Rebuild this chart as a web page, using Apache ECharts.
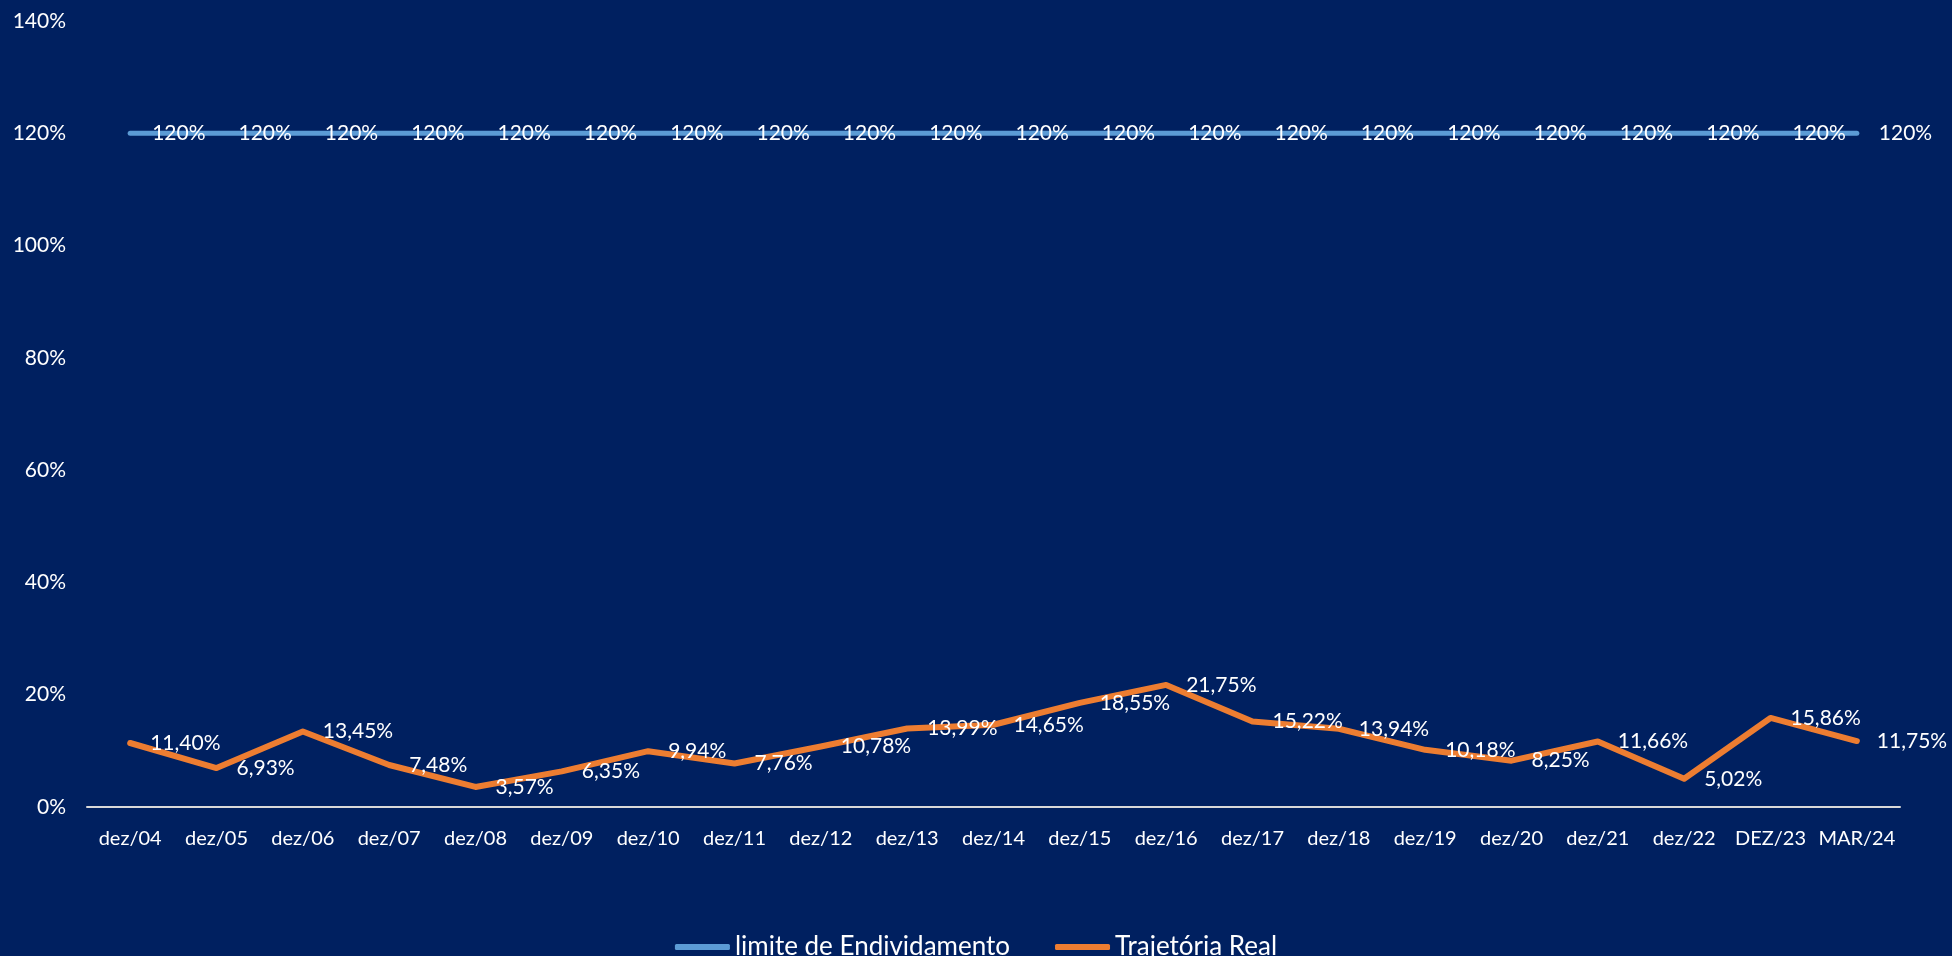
<!DOCTYPE html>
<html>
<head>
<meta charset="utf-8">
<script src="https://cdn.jsdelivr.net/npm/echarts@6/dist/echarts.min.js"></script>
<style>
html,body{margin:0;padding:0;background:#002060;}
#chart{width:1952px;height:956px;}
</style>
</head>
<body>
<div id="chart"></div>
<script>
const categories = ['dez/04','dez/05','dez/06','dez/07','dez/08','dez/09','dez/10','dez/11','dez/12','dez/13','dez/14','dez/15','dez/16','dez/17','dez/18','dez/19','dez/20','dez/21','dez/22','DEZ/23','MAR/24'];
const limiteValues = [120,120,120,120,120,120,120,120,120,120,120,120,120,120,120,120,120,120,120,120,120];
const trajetoriaValues = [11.40,6.93,13.45,7.48,3.57,6.35,9.94,7.76,10.78,13.99,14.65,18.55,21.75,15.22,13.94,10.18,8.25,11.66,5.02,15.86,11.75];
const yTicks = {min:0, max:140, interval:20};
const seriesNames = ['limite de Endividamento','Trajetória Real'];

const FONT = 'Lato, "Open Sans", sans-serif';
const chart = echarts.init(document.getElementById('chart'));
chart.setOption({
  backgroundColor:'#002060',
  animation:false,
  grid:{left:87,right:52,top:21,bottom:149,containLabel:false},
  legend:{
    top:929,left:'center',
    itemWidth:55,itemHeight:6,itemGap:45,
    icon:'roundRect',
    textStyle:{color:'#ffffff',fontSize:26,fontFamily:FONT},
    data:seriesNames
  },
  xAxis:{
    type:'category',data:categories,boundaryGap:true,
    axisLine:{show:true,lineStyle:{color:'#d9d9d9',width:2}},
    axisTick:{show:false},
    axisLabel:{color:'#ffffff',fontSize:20,fontFamily:FONT,margin:22,interval:0}
  },
  yAxis:{
    type:'value',min:yTicks.min,max:yTicks.max,interval:yTicks.interval,
    axisLine:{show:false},axisTick:{show:false},splitLine:{show:false},
    axisLabel:{color:'#ffffff',fontSize:21,fontFamily:FONT,margin:21,formatter:'{value}%'}
  },
  series:[
    {
      name:seriesNames[0],type:'line',data:limiteValues,
      showSymbol:true,symbol:'circle',symbolSize:0,
      itemStyle:{color:'#5B9BD5'},
      lineStyle:{color:'#5B9BD5',width:5,cap:'round',join:'round'},
      label:{show:true,position:'right',distance:22,color:'#ffffff',fontSize:21,fontFamily:FONT,
        formatter:p=>p.value+'%'},
      emphasis:{disabled:true},
      z:2
    },
    {
      name:seriesNames[1],type:'line',data:trajetoriaValues,
      showSymbol:true,symbol:'circle',symbolSize:0,
      itemStyle:{color:'#ED7D31'},
      lineStyle:{color:'#ED7D31',width:6,cap:'round',join:'round'},
      label:{show:true,position:'right',distance:20,color:'#ffffff',fontSize:21,fontFamily:FONT,
        formatter:p=>p.value.toFixed(2).replace('.',',')+'%'},
      emphasis:{disabled:true},
      z:3
    }
  ]
});
</script>
</body>
</html>
